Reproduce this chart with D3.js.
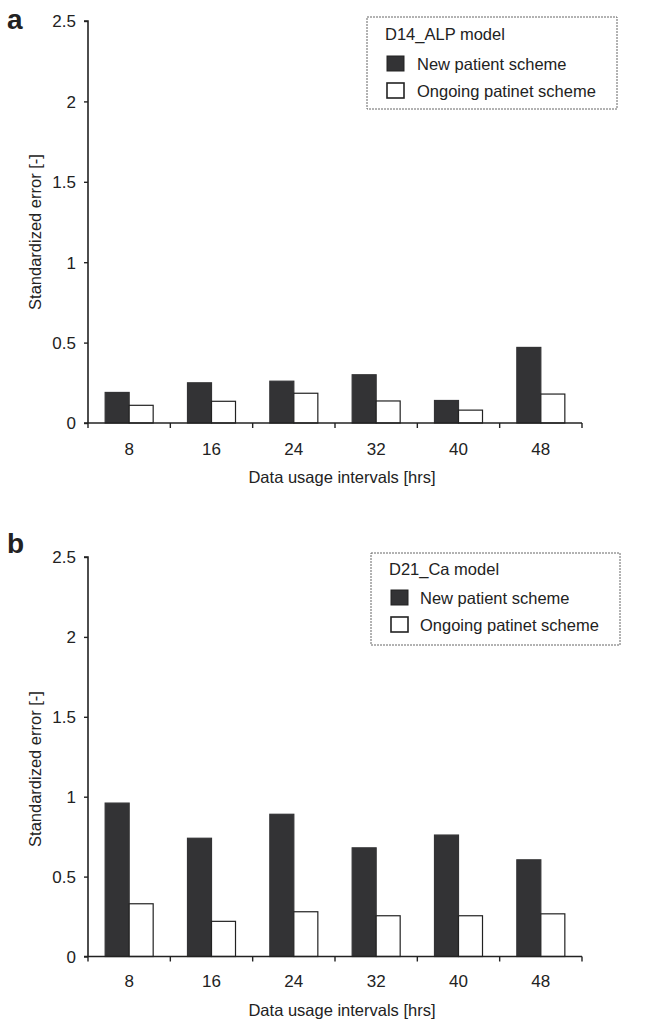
<!DOCTYPE html>
<html><head><meta charset="utf-8">
<script src="https://cdn.jsdelivr.net/npm/d3@7"></script>
<style>body{margin:0;background:#fff}svg{display:block}text{font-family:"Liberation Sans",Arial,sans-serif;fill:#222}</style>
</head><body>
<script>
const categories = ["8","16","24","32","40","48"];
const seriesNames = ["New patient scheme","Ongoing patinet scheme"];
const aNew = [0.19,0.25,0.26,0.30,0.14,0.47];
const aOngoing = [0.11,0.135,0.185,0.137,0.08,0.18];
const bNew = [0.96,0.74,0.89,0.68,0.76,0.605];
const bOngoing = [0.33,0.22,0.28,0.255,0.255,0.267];
const yTicks = [0,0.5,1,1.5,2,2.5];
const panels = [
  {letter:"a", title:"D14_ALP model", newV:aNew, ongV:aOngoing, top:21, base:423, letterY:29, ylabC:232,
   legend:{x:367,y:17,w:250,h:92,titleY:40,s1:56,s2:83,sx:387,tx:417}, tickY:455, labY:483},
  {letter:"b", title:"D21_Ca model", newV:bNew, ongV:bOngoing, top:557, base:956.5, letterY:553, ylabC:769,
   legend:{x:371,y:553,w:249,h:92,titleY:575,s1:590,s2:617,sx:391,tx:420}, tickY:987, labY:1016}
];
const W=646,H=1020, xL=88, xR=582;
const svg=d3.select("body").append("svg").attr("width",W).attr("height",H);
const colors=["#333335","#ffffff"];

panels.forEach(p=>{
  const g=svg.append("g");
  const x0=d3.scaleBand().domain(categories).range([xL,xR]).padding(0);
  const x1=d3.scaleBand().domain([0,1]).range([0,x0.bandwidth()]).paddingInner(0).paddingOuter(0.715);
  const y=d3.scaleLinear().domain([0,2.5]).range([p.base,p.top]);
  const data=categories.map((c,i)=>({c,vals:[p.newV[i],p.ongV[i]]}));
  g.selectAll("g.grp").data(data).join("g").attr("transform",d=>`translate(${x0(d.c)},0)`)
    .selectAll("rect").data(d=>d.vals.map((v,k)=>({v,k}))).join("rect")
    .attr("x",d=>x1(d.k)).attr("width",x1.bandwidth())
    .attr("y",d=>y(d.v)).attr("height",d=>p.base-y(d.v))
    .attr("fill",d=>colors[d.k]).attr("stroke",d=>d.k?"#222":"#333335").attr("stroke-width",1.2);
  const ya=g.append("g").attr("transform",`translate(${xL},0)`)
    .call(d3.axisLeft(y).tickValues(yTicks).tickSize(4).tickPadding(8).tickFormat(d=>String(d)));
  ya.select(".domain").attr("stroke","#222").attr("stroke-width",1.6).attr("d",`M-4,${y(2.5)}H0V${p.base}`);
  ya.selectAll(".tick line").attr("stroke","#222").attr("stroke-width",1.4);
  ya.selectAll(".tick text").attr("font-size",17).attr("fill","#222").attr("dy","0.35em");
  g.append("line").attr("x1",xL-4).attr("x2",xR).attr("y1",p.base).attr("y2",p.base).attr("stroke","#222").attr("stroke-width",1.6);
  const bounds=categories.map(c=>x0(c)).concat([xR]);
  g.selectAll("line.xt").data(bounds).join("line").attr("class","xt")
    .attr("x1",d=>d).attr("x2",d=>d).attr("y1",p.base).attr("y2",p.base+5).attr("stroke","#222").attr("stroke-width",1.4);
  g.selectAll("text.xl").data(categories).join("text").attr("class","xl")
    .attr("x",d=>x0(d)+x0.bandwidth()/2).attr("y",p.tickY).attr("text-anchor","middle").attr("font-size",17).text(d=>d);
  g.append("text").attr("x",342).attr("y",p.labY).attr("text-anchor","middle").attr("font-size",16.5).text("Data usage intervals [hrs]");
  g.append("text").attr("transform",`translate(41,${p.ylabC}) rotate(-90)`).attr("text-anchor","middle").attr("font-size",16.5).text("Standardized error [-]");
  g.append("text").attr("x",7).attr("y",p.letterY).attr("font-size",28).attr("font-weight","bold").text(p.letter);
  const L=p.legend;
  g.append("rect").attr("x",L.x).attr("y",L.y).attr("width",L.w).attr("height",L.h).attr("fill","none")
    .attr("stroke","#666").attr("stroke-width",1).attr("stroke-dasharray","2,1");
  g.append("text").attr("x",L.x+18).attr("y",L.titleY).attr("font-size",16.5).text(p.title);
  [L.s1,L.s2].forEach((sy,k)=>{
    g.append("rect").attr("x",L.sx).attr("y",sy).attr("width",17).attr("height",15)
      .attr("fill",colors[k]).attr("stroke","#222").attr("stroke-width",k?1.6:1);
    g.append("text").attr("x",L.tx).attr("y",sy+14).attr("font-size",16.5).text(seriesNames[k]);
  });
});
</script>
</body></html>
